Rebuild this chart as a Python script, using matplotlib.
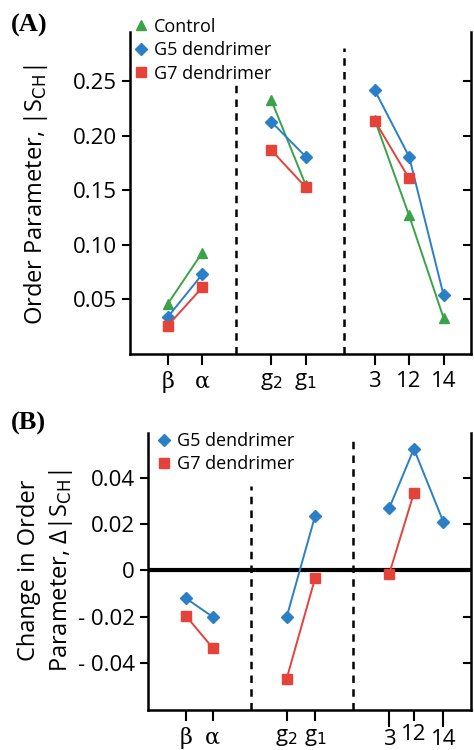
import numpy as np
import matplotlib
matplotlib.use('Agg')
import matplotlib.pyplot as plt

plt.rcParams['font.family'] = ['Open Sans', 'DejaVu Sans']

# data
sites = ['β', 'α', 'g$_2$', 'g$_1$', '3', '12', '14']
groups = [(0, 2), (2, 4), (4, 7)]

control_a = [0.046, 0.093, 0.233, 0.155, 0.215, 0.127, 0.033]
g5_a = [0.034, 0.073, 0.213, 0.181, 0.242, 0.181, 0.054]
g7_a = [0.026, 0.061, 0.187, 0.153, 0.214, 0.161, np.nan]

g5_b = [-0.012, -0.020, -0.020, 0.0235, 0.027, 0.0525, 0.021]
g7_b = [-0.0196, -0.0334, -0.0466, -0.0034, -0.0013, 0.0334, np.nan]

yticks_a = [0.05, 0.10, 0.15, 0.20, 0.25]
yticks_b = [-0.04, -0.02, 0, 0.02, 0.04]
ytick_labels_b = ['- 0.04', '- 0.02', '0', '0.02', '0.04']

green = '#3aa348'
blue = '#2b7fc6'
red = '#e5423a'

xpos_a = [0, 1, 3, 4, 6, 7, 8]
xpos_b = [0, 0.99, 3.73, 4.78, 7.53, 8.44, 9.53]

fig = plt.figure(figsize=(4.74, 7.5), dpi=100)
axA = fig.add_axes([0.274, 0.528, 0.72, 0.429])
axB = fig.add_axes([0.312, 0.0533, 0.682, 0.369])


def draw(ax, xpos, y, color, marker, ms, label):
    x = np.array(xpos)
    y = np.array(y)
    for k, (s, e) in enumerate(groups):
        ax.plot(x[s:e], y[s:e], color=color, lw=1.4, marker=marker, ms=ms,
                label=label if k == 0 else None)


def style(ax, xpos):
    ax.spines['top'].set_visible(False)
    for s in ['left', 'bottom', 'right']:
        ax.spines[s].set_linewidth(1.8)
    ax.tick_params(axis='y', which='both', direction='out', length=6, width=1.5,
                   labelsize=16, right=True, labelright=False)
    ax.tick_params(axis='x', direction='out', length=8, width=1.5, labelsize=16,
                   pad=4)
    ax.set_xticks(xpos)
    ax.set_xticklabels(sites)
    for lab in ax.get_xticklabels()[:2]:
        lab.set_family('DejaVu Serif')
    # right ticks inward
    for t in ax.yaxis.get_major_ticks():
        t.tick2line.set_marker(matplotlib.lines.TICKLEFT)


# panel A
draw(axA, xpos_a, control_a, green, '^', 7, 'Control')
draw(axA, xpos_a, g5_a, blue, 'D', 6, 'G5 dendrimer')
draw(axA, xpos_a, g7_a, red, 's', 6.5, 'G7 dendrimer')
axA.set_xlim(-1.1, 8.8)
axA.set_ylim(0, 0.295)
axA.set_yticks(yticks_a)
axA.set_yticklabels(['%.2f' % v for v in yticks_a])
axA.axvline(1.97, ymin=0, ymax=0.855, color='k', ls=(0, (3, 2.5)), lw=1.8)
axA.axvline(5.1, ymin=0, ymax=0.95, color='k', ls=(0, (3, 2.5)), lw=1.8)
style(axA, xpos_a)
axA.set_ylabel('Order Parameter, |S$_{\\mathrm{CH}}$|', fontsize=17)
axA.yaxis.set_label_coords(-0.235, 0.494)
axA.legend(loc='upper left', bbox_to_anchor=(0.015, 1.045), frameon=False,
           fontsize=13, handlelength=0.7, handletextpad=0.35, labelspacing=0.3,
           borderpad=0, borderaxespad=0)
for h in axA.get_legend().get_lines():
    h.set_linestyle('none')

# panel B
draw(axB, xpos_b, g5_b, blue, 'D', 6, 'G5 dendrimer')
draw(axB, xpos_b, g7_b, red, 's', 6.5, 'G7 dendrimer')
axB.axhline(0, color='k', lw=3, zorder=1)
axB.set_xlim(-1.41, 10.56)
axB.set_ylim(-0.0602, 0.0592)
axB.set_yticks(yticks_b)
axB.set_yticklabels(ytick_labels_b)
axB.axvline(2.41, ymin=0, ymax=0.81, color='k', ls=(0, (3, 2.5)), lw=1.8)
axB.axvline(6.2, ymin=0, ymax=0.98, color='k', ls=(0, (3, 2.5)), lw=1.8)
style(axB, xpos_b)
# uneven tick labels of the last group, as in the original
xt = axB.xaxis.get_major_ticks()
for i in (4, 6):
    xt[i].tick1line.set_markersize(12)
    xt[i].label1.set_y(-0.008)
xt[5].label1.set_y(0.008)
axB.set_ylabel('Change in Order\nParameter, Δ|S$_{\\mathrm{CH}}$|', fontsize=17,
               linespacing=1.3)
axB.yaxis.set_label_coords(-0.226, 0.505)
axB.legend(loc='upper left', bbox_to_anchor=(0.03, 1.005), frameon=False,
           fontsize=13, handlelength=0.7, handletextpad=0.35, labelspacing=0.3,
           borderpad=0, borderaxespad=0)
for h in axB.get_legend().get_lines():
    h.set_linestyle('none')

fig.text(0.022, 0.966, '(A)', fontsize=19, weight='bold', family='Liberation Serif',
         va='center')
fig.text(0.022, 0.436, '(B)', fontsize=19, weight='bold', family='Liberation Serif',
         va='center')

fig.savefig('out.png', dpi=100)
